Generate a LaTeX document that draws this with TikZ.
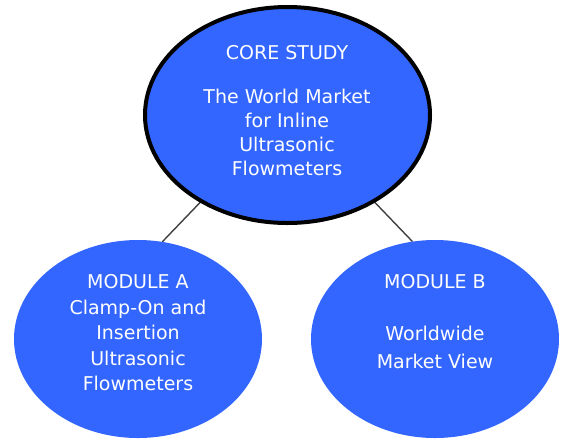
\documentclass[tikz,border=0pt]{standalone}
\usepackage{fontspec}
\setmainfont{DejaVu Sans}
\usetikzlibrary{shapes.geometric,backgrounds}
\definecolor{bubble}{HTML}{3366FF}
\definecolor{linkgray}{HTML}{404040}
\begin{document}
\begin{tikzpicture}[x=1pt,y=-1pt,
  bub/.style={ellipse,fill=bubble,inner sep=0pt,outer sep=0pt},
  lab/.style={text=white,align=center,font=\fontsize{19}{24}\selectfont,inner sep=0pt},
  link/.style={draw=linkgray,line width=1.4pt}]
\useasboundingbox (0,0) rectangle (561,440);
\node[bub,draw=black,line width=4pt,minimum width=285pt,minimum height=216pt] (core) at (287.5,115) {};
\node[bub,minimum width=248pt,minimum height=198pt] (moda) at (138,339) {};
\node[bub,minimum width=248pt,minimum height=198pt] (modb) at (435,339) {};
\begin{scope}[on background layer]
\draw[link] (core.225) -- (moda.76);
\draw[link] (core.315) -- (modb.103);
\end{scope}
\node[lab] (coretitle) at (287,53) {CORE STUDY};
\node[lab] (corebody) at (287,132) {The World Market\\for Inline\\Ultrasonic\\Flowmeters};
\node[lab,font=\fontsize{19}{25.5}\selectfont] (modatext) at (138,333) {MODULE A\\Clamp-On and\\Insertion\\Ultrasonic\\Flowmeters};
\node[lab] (modbtitle) at (435,282) {MODULE B};
\node[lab,font=\fontsize{19}{28}\selectfont] (modbtext) at (435,347) {Worldwide\\Market View};
\end{tikzpicture}
\end{document}
